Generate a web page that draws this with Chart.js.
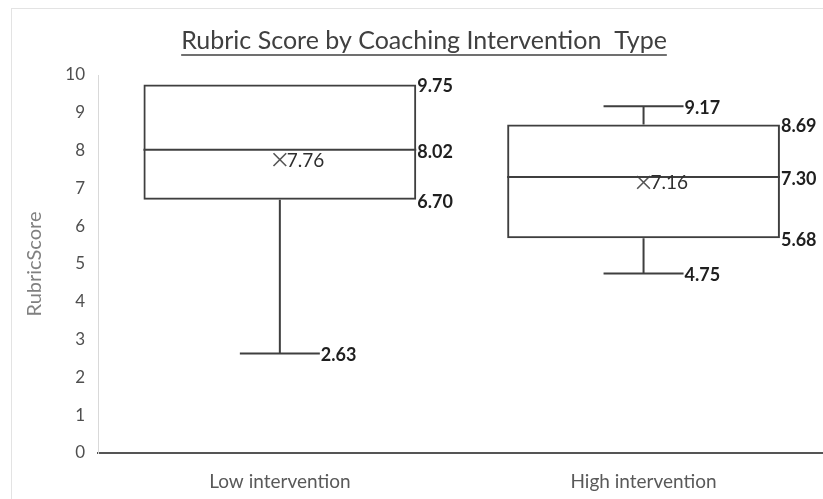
<!DOCTYPE html>
<html lang="en">
<head>
    <meta charset="UTF-8">
    <title>Rubric Score by Coaching Intervention Type</title>
    <script src="https://cdn.jsdelivr.net/npm/chart.js"></script>
    <style>
        html, body { margin: 0; padding: 0; background: #fff; overflow: hidden; }
        #frame { position: absolute; left: 11px; top: 8px; width: 900px; height: 600px;
                 border-left: 1px solid #e3e3e3; border-top: 1px solid #e3e3e3; }
        #wrap { position: absolute; left: 0; top: 0; width: 836px; height: 499px; }
    </style>
</head>
<body>
<div id="frame"></div>
<div id="wrap"><canvas id="boxChart"></canvas></div>

<script>
// Box plot values
const categories = ['Low intervention', 'High intervention'];
const minVals = [2.63, 4.75];
const q1Vals = [6.70, 5.68];
const medians = [8.02, 7.30];
const q3Vals = [9.75, 8.69];
const maxVals = [9.75, 9.17];
const means = [7.76, 7.16];

const lineColor = '#3f3f3f';
const labelFont = 'bold 18px Lato';

// whiskers, medians and the value labels
const boxExtras = {
    id: 'boxExtras',
    afterDatasetsDraw(chart) {
        const ctx = chart.ctx;
        const x = chart.scales.x;
        const y = chart.scales.y;
        const bars = chart.getDatasetMeta(0).data;
        ctx.save();
        ctx.strokeStyle = lineColor;
        ctx.lineWidth = 2;
        ctx.textBaseline = 'middle';
        categories.forEach((c, i) => {
            const cx = x.getPixelForValue(i);
            const half = bars[i].width / 2;
            const right = cx + half;
            const cap = 40;
            const yMed = y.getPixelForValue(medians[i]);
            const yQ1 = y.getPixelForValue(q1Vals[i]);
            const yQ3 = y.getPixelForValue(q3Vals[i]);
            const yMin = y.getPixelForValue(minVals[i]);
            const yMax = y.getPixelForValue(maxVals[i]);

            ctx.beginPath();
            ctx.moveTo(cx - half, yMed); ctx.lineTo(right, yMed);
            ctx.stroke();

            ctx.fillStyle = '#1f1f1f';
            ctx.font = labelFont;
            if (maxVals[i] > q3Vals[i]) {
                ctx.beginPath();
                ctx.moveTo(cx, yQ3); ctx.lineTo(cx, yMax);
                ctx.moveTo(cx - cap, yMax); ctx.lineTo(cx + cap, yMax);
                ctx.stroke();
                ctx.fillText(maxVals[i].toFixed(2), cx + cap + 1, yMax + 2);
            }
            if (minVals[i] < q1Vals[i]) {
                ctx.beginPath();
                ctx.moveTo(cx, yQ1); ctx.lineTo(cx, yMin);
                ctx.moveTo(cx - cap, yMin); ctx.lineTo(cx + cap, yMin);
                ctx.stroke();
                ctx.fillText(minVals[i].toFixed(2), cx + cap + 1, yMin + 2);
            }
            ctx.fillText(q3Vals[i].toFixed(2), right + 1, yQ3 + 2);
            ctx.fillText(medians[i].toFixed(2), right + 1, yMed + 2);
            ctx.fillText(q1Vals[i].toFixed(2), right + 1, yQ1 + 2);

            ctx.fillStyle = '#2e2e2e';
            ctx.font = '19px Lato';
            ctx.fillText(means[i].toFixed(2), cx + 7, y.getPixelForValue(means[i]) + 1);
        });
        ctx.restore();
    },
    afterDraw(chart) {
        // underlined title
        const ctx = chart.ctx;
        const text = 'Rubric Score by Coaching Intervention  Type';
        ctx.save();
        ctx.font = '25px Lato';
        ctx.fillStyle = '#404040';
        ctx.textAlign = 'center';
        ctx.textBaseline = 'alphabetic';
        const cx = 424;
        ctx.fillText(text, cx, 49);
        const w = ctx.measureText(text).width;
        ctx.strokeStyle = '#404040';
        ctx.lineWidth = 1.5;
        ctx.beginPath();
        ctx.moveTo(cx - w / 2, 55); ctx.lineTo(cx + w / 2, 55);
        ctx.stroke();
        ctx.restore();
    }
};

new Chart(document.getElementById('boxChart'), {
    type: 'bar',
    data: {
        labels: categories,
        datasets: [
            {
                label: 'Box',
                data: categories.map((c, i) => [q1Vals[i], q3Vals[i]]),
                backgroundColor: 'rgba(255,255,255,0)',
                borderColor: lineColor,
                borderWidth: 2,
                borderSkipped: false,
                barPercentage: 0.75,
                categoryPercentage: 1.0,
                order: 2
            },
            {
                type: 'line',
                label: 'Mean',
                data: means,
                showLine: false,
                pointStyle: 'crossRot',
                pointRadius: 9,
                borderColor: '#555',
                borderWidth: 1.6,
                order: 1
            }
        ]
    },
    options: {
        responsive: true,
        maintainAspectRatio: false,
        animation: false,
        layout: { padding: { top: 75, left: 0, right: 0, bottom: 0 } },
        plugins: {
            legend: { display: false },
            tooltip: { enabled: false }
        },
        scales: {
            x: {
                grid: { display: false, drawTicks: false },
                border: { color: '#555', width: 2 },
                ticks: { color: '#595959', font: { family: 'Lato', size: 19 }, padding: 17 },
                afterFit: s => { s.height = 46; }
            },
            y: {
                min: 0,
                max: 10,
                grid: { display: false, drawTicks: false },
                border: { color: '#d9d9d9', width: 1 },
                ticks: { stepSize: 1, color: '#4f4f4f', font: { family: 'Lato', size: 17 }, padding: 13 },
                title: {
                    display: true,
                    text: 'RubricScore',
                    color: '#808080',
                    font: { family: 'Lato', size: 20 },
                    padding: { top: 23, bottom: 0 }
                },
                afterFit: s => { s.width = 98; }
            }
        }
    },
    plugins: [boxExtras]
});
</script>
</body>
</html>
